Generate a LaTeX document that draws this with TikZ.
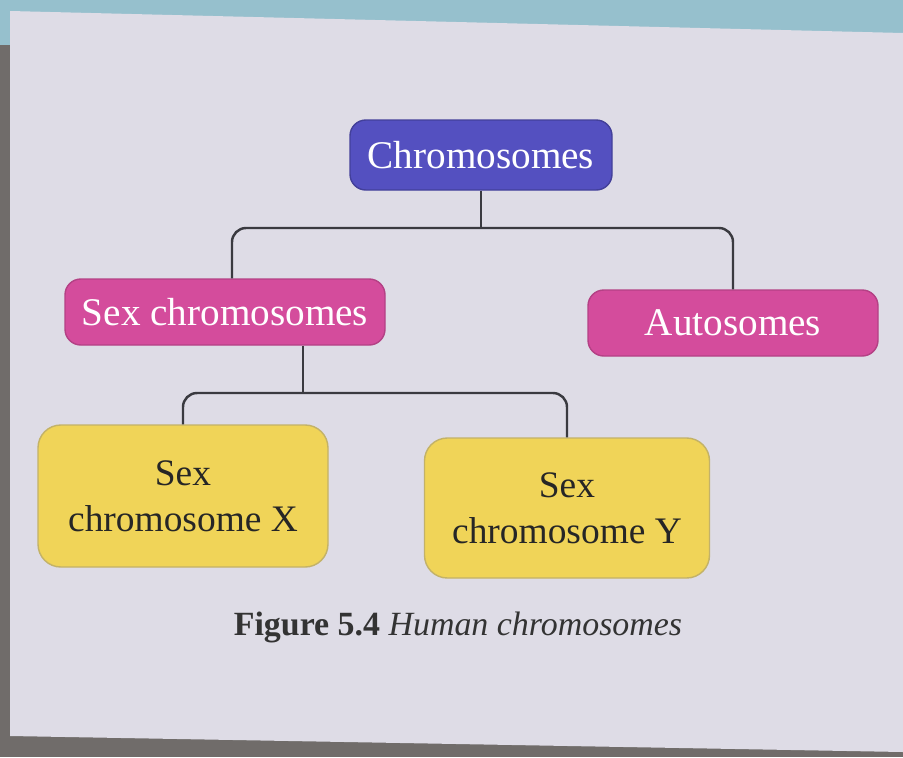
\documentclass[tikz,border=0pt]{standalone}
\usepackage{fontspec}
\setmainfont{Liberation Serif}
\usepackage{tikz}
\usetikzlibrary{calc}
\definecolor{pagepaper}{RGB}{222,220,230}
\definecolor{deskblue}{RGB}{150,192,205}
\definecolor{deskgray}{RGB}{112,108,106}
\definecolor{chromblue}{RGB}{84,80,192}
\definecolor{sexpink}{RGB}{212,76,156}
\definecolor{xyyellow}{RGB}{240,212,88}
\definecolor{linkgray}{RGB}{58,58,64}
\tikzset{box/.style={rounded corners=9pt,draw,line width=.8pt,align=center,inner sep=0pt},
 topbox/.style={box,fill=chromblue,draw=chromblue!80!black,text=white},
 midbox/.style={box,fill=sexpink,draw=sexpink!85!black,text=white},
 leafbox/.style={box,rounded corners=13pt,fill=xyyellow,draw=xyyellow!60!gray,text=black!85,font=\fontsize{21.3}{26}\selectfont},
 link/.style={linkgray,line width=1.4pt,rounded corners=8pt},
 every node/.style={font=\fontsize{22.3}{26}\selectfont}}

\begin{document}
\begin{tikzpicture}[x=0.2mm,y=-0.2mm]
% page and desk
\fill[deskgray] (0,0) rectangle (903,757);
\fill[deskblue] (0,0) rectangle (903,45);
\fill[pagepaper] (10,11) -- (903,33) -- (903,752) -- (10,736) -- cycle;
\useasboundingbox (0,0) rectangle (903,757);
% boxes
\node[topbox,minimum width=262*0.2mm,minimum height=70*0.2mm] (chrom) at (481,155) {Chromosomes};
\node[midbox,minimum width=320*0.2mm,minimum height=66*0.2mm] (sexc) at (225,312) {Sex chromosomes};
\node[midbox,minimum width=290*0.2mm,minimum height=66*0.2mm] (auto) at (733,323) {Autosomes};
\node[leafbox,minimum width=290*0.2mm,minimum height=142*0.2mm] (sexx) at (183,496) {Sex\\chromosome X};
\node[leafbox,minimum width=285*0.2mm,minimum height=140*0.2mm] (sexy) at (567,508) {Sex\\chromosome Y};
% junctions
\coordinate (j1) at (481,228);
\coordinate (j2) at (303,393);
\draw[link] (chrom.south) -- (j1);
\draw[link] ([xshift=7*0.2mm]sexc.north) |- (j1) -| (auto.north);
\draw[link] (sexc.south -| j2) -- (j2);
\draw[link] (sexx.north) |- (j2) -| (sexy.north);
% caption
\node[text=black!80,font=\fontsize{19.3}{23}\selectfont] (cap) at (458,627) {\textbf{Figure 5.4} \textit{Human chromosomes}};
\end{tikzpicture}
\end{document}
